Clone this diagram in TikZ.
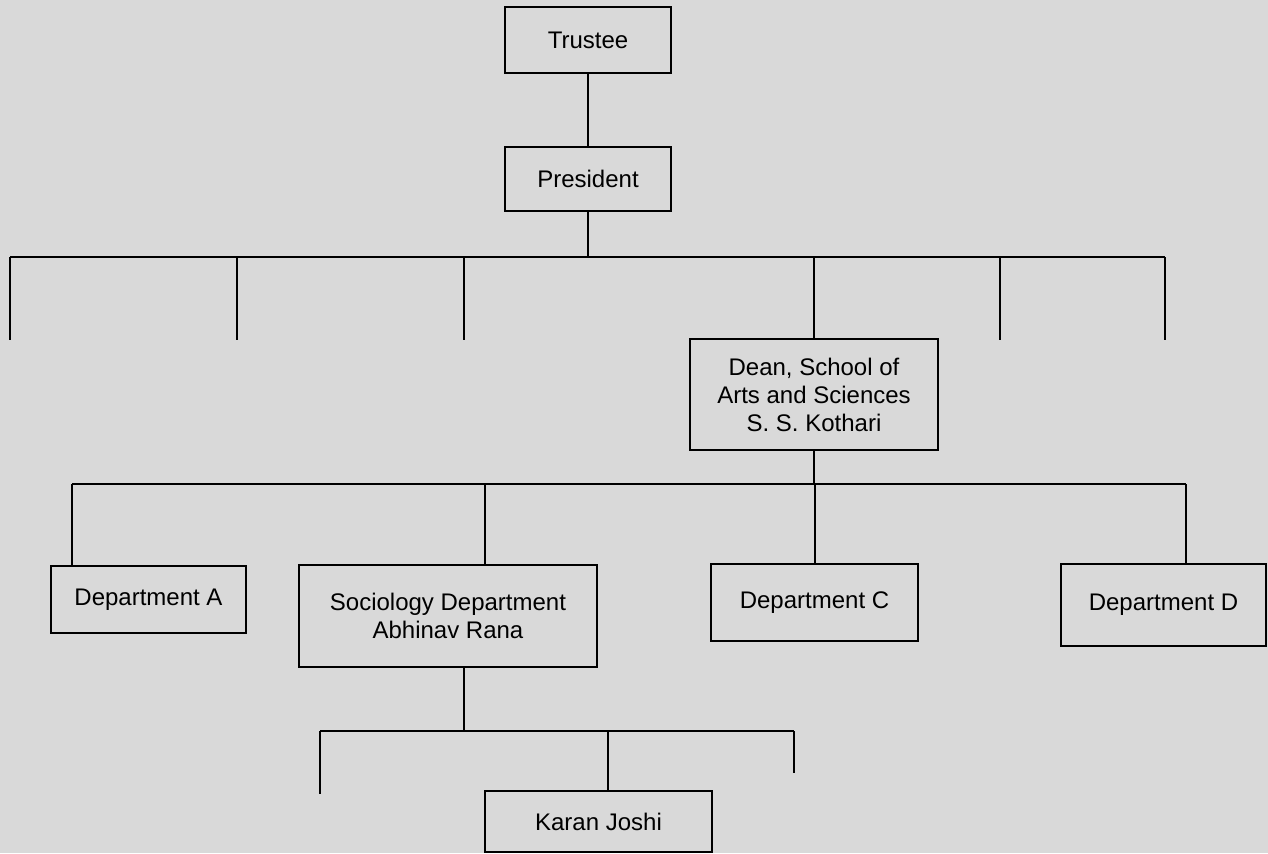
\documentclass[tikz,border=0pt]{standalone}
\usepackage{fontspec}
\setmainfont{Liberation Sans}
\definecolor{pagegray}{HTML}{D9D9D9}
\begin{document}
\begin{tikzpicture}[x=0.5pt,y=-0.5pt,
  line width=1pt,
  orgbox/.style={draw=black, fill=pagegray, rectangle, inner sep=0pt,
    align=center, font=\fontsize{12}{14}\selectfont},
  link/.style={draw=black, line width=1pt}]
  % page
  \fill[pagegray] (0,0) rectangle (1268,853);
  \useasboundingbox (0,0) rectangle (1268,853);

  % boxes
  \node[orgbox, minimum width=83pt, minimum height=33pt] (trustee) at (588,40) {Trustee};
  \node[orgbox, minimum width=83pt, minimum height=32pt] (president) at (588,179) {President};
  \node[orgbox, minimum width=124pt, minimum height=55.5pt] (dean) at (814,394.5)
    {Dean, School of\\Arts and Sciences\\S. S. Kothari};
  \node[orgbox, minimum width=97.5pt, minimum height=33.5pt] (depa) at (148.5,599.5) {Department A};
  \node[orgbox, minimum width=149pt, minimum height=51pt] (soc) at (448,616)
    {Sociology Department\\Abhinav Rana};
  \node[orgbox, minimum width=103.5pt, minimum height=38.5pt] (depc) at (814.5,602.5) {Department C};
  \node[orgbox, minimum width=102.5pt, minimum height=41pt] (depd) at (1163.5,605) {Department D};
  \node[orgbox, minimum width=113.5pt, minimum height=30.5pt] (karan) at (598.5,821.5) {Karan Joshi};

  % first level: trustee to president, president to the bus
  \draw[link] (trustee.south) -- (president.north);
  \coordinate (busA) at (588,257);
  \coordinate (a1) at (10,257);
  \coordinate (a2) at (237,257);
  \coordinate (a3) at (464,257);
  \coordinate (a5) at (1000,257);
  \coordinate (a6) at (1165,257);
  \draw[link] (president.south) -- (busA);
  \draw[link] (a1) -- (a6);
  \foreach \p in {a1,a2,a3,a5,a6}
    \draw[link] (\p) -- ++(0,83);
  \draw[link] (dean.north |- busA) -- (dean.north);

  % second level: dean to the departments
  \coordinate (busB) at (814,484);
  \coordinate (b1) at (72,484);
  \coordinate (b2) at (485,484);
  \coordinate (b4) at (1186,484);
  \draw[link] (dean.south) -- (busB);
  \draw[link] (b1) -- (b4);
  \draw[link] (b1) -- (b1 |- depa.north);
  \draw[link] (b2) -- (b2 |- soc.north);
  \draw[link] (depc.north |- busB) -- (depc.north);
  \draw[link] (b4) -- (b4 |- depd.north);

  % third level: sociology department to its staff
  \coordinate (sdrop) at (464,667);
  \coordinate (busC) at (464,731);
  \coordinate (c1) at (320,731);
  \coordinate (c2) at (608,731);
  \coordinate (c3) at (794,731);
  \draw[link] (sdrop |- soc.south) -- (busC);
  \draw[link] (c1) -- (c3);
  \draw[link] (c1) -- ++(0,63);
  \draw[link] (c3) -- ++(0,42);
  \draw[link] (c2) -- (c2 |- karan.north);
\end{tikzpicture}
\end{document}
